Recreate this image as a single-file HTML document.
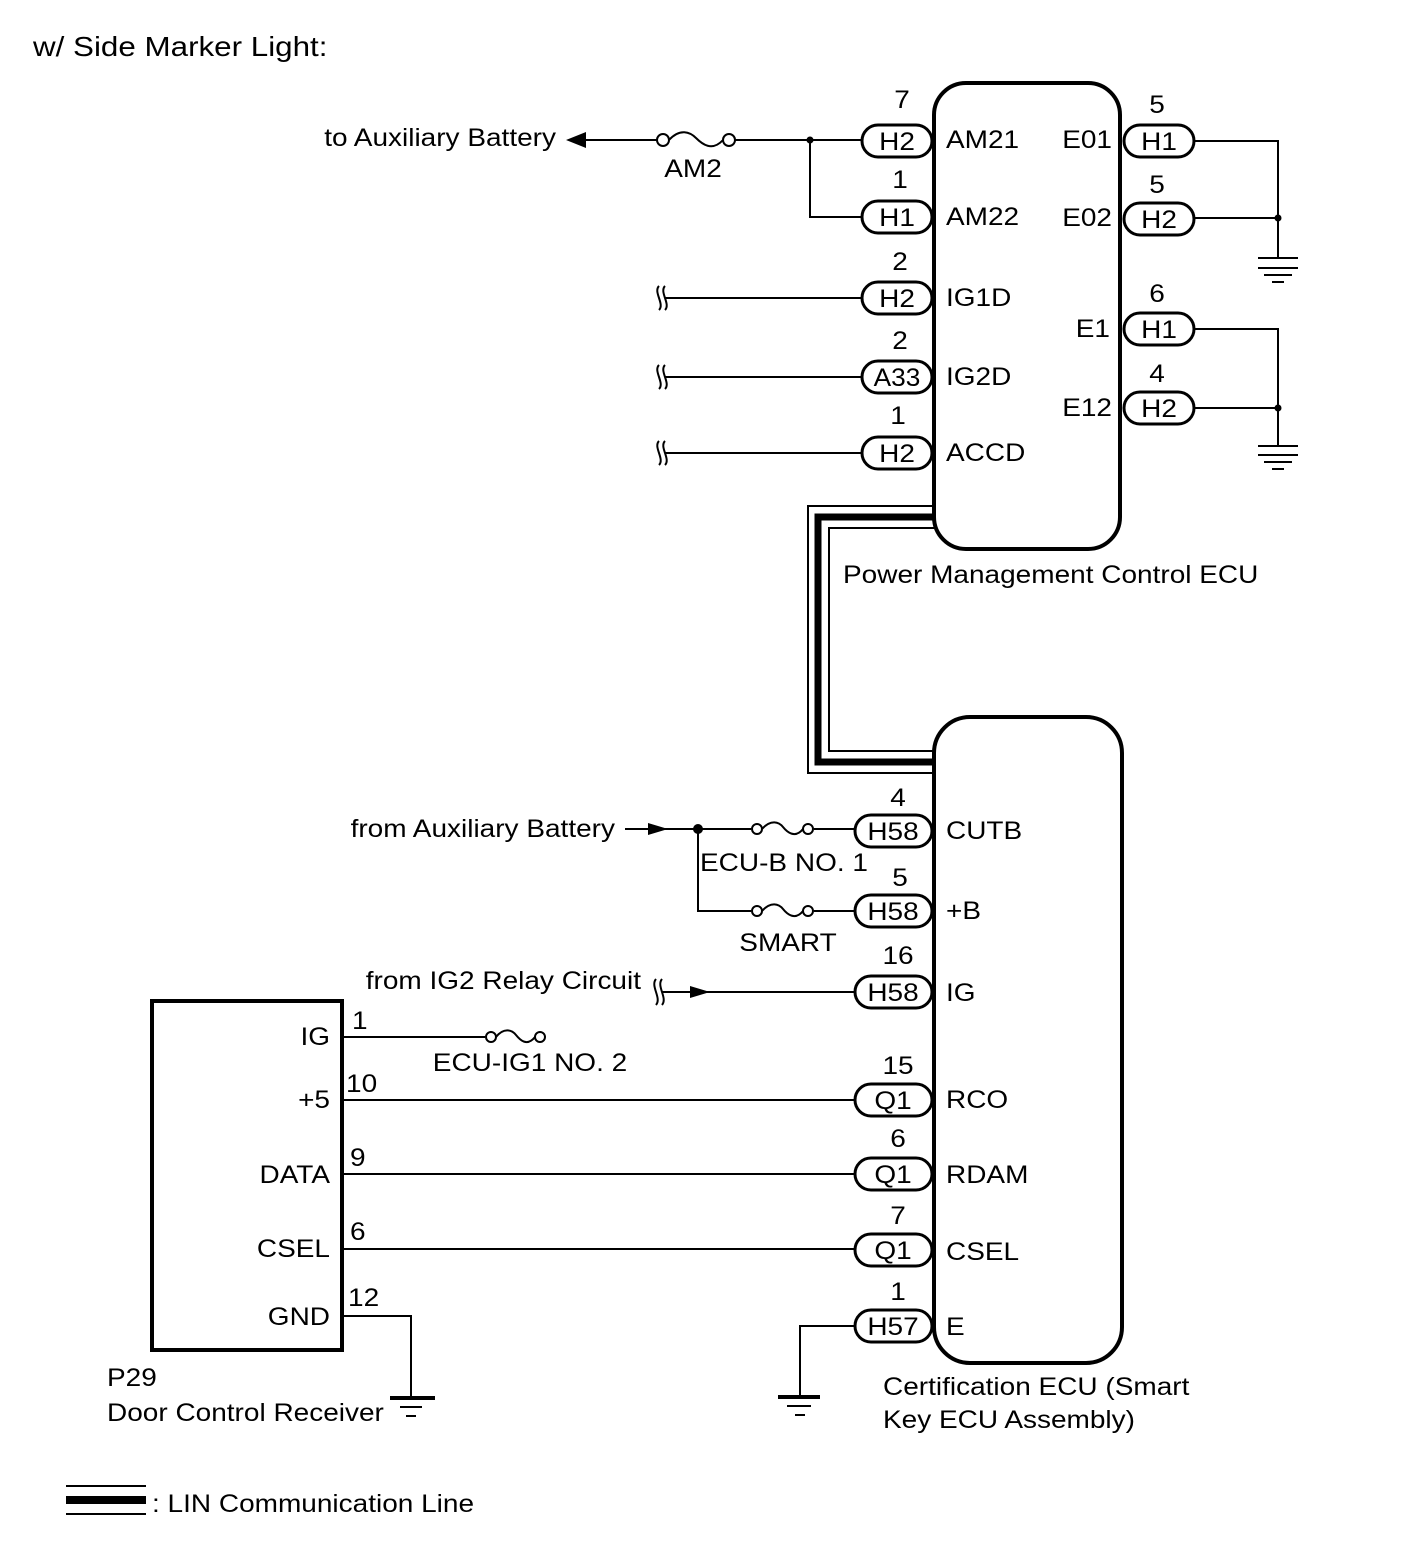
<!DOCTYPE html>
<html><head><meta charset="utf-8"><style>
html,body{margin:0;padding:0;background:#fff;}
svg{display:block;}
text{font-family:"Liberation Sans",Arial,sans-serif;font-size:25px;fill:#000;}
</style></head><body>
<svg width="1424" height="1562" viewBox="0 0 1424 1562" xmlns="http://www.w3.org/2000/svg">
<g fill="none" stroke="#000">
<rect x="934" y="83" width="186" height="466" rx="32" stroke-width="4"/>
<rect x="934" y="717" width="188" height="646" rx="36" stroke-width="4"/>
<rect x="152" y="1001" width="190" height="349" stroke-width="4"/>

<polyline points="934,506 808,506 808,773 934,773" stroke-width="2"/>
<polyline points="934,517 818,517 818,762 934,762" stroke-width="7"/>
<polyline points="934,528 829,528 829,751 934,751" stroke-width="2"/>

<g stroke-width="2">
<line x1="585" y1="140" x2="657" y2="140"/>
<line x1="735" y1="140" x2="862" y2="140"/>
<polyline points="810,140 810,217 862,217"/>
<circle cx="663" cy="140" r="6"/><circle cx="729" cy="140" r="6"/>
<path d="M669,140 C680,128 690,132 696,138 S712,152 723,140"/>
<line x1="665" y1="298" x2="862" y2="298"/>
<line x1="665" y1="377" x2="862" y2="377"/>
<line x1="665" y1="453" x2="862" y2="453"/>
<path d="M659,286 C653,292 665,304 659,310 M665,286 C659,292 671,304 665,310"/>
<path d="M659,365 C653,371 665,383 659,389 M665,365 C659,371 671,383 665,389"/>
<path d="M659,441 C653,447 665,459 659,465 M665,441 C659,447 671,459 665,465"/>
<polyline points="1194,141 1278,141 1278,258"/>
<line x1="1194" y1="218" x2="1278" y2="218"/>
<polyline points="1194,329 1278,329 1278,446"/>
<line x1="1194" y1="408" x2="1278" y2="408"/>
<line x1="1258" y1="268" x2="1298" y2="268"/>
<line x1="1264" y1="275" x2="1292" y2="275"/>
<line x1="1272" y1="282" x2="1284" y2="282"/>
<line x1="1258" y1="455" x2="1298" y2="455"/>
<line x1="1264" y1="462" x2="1292" y2="462"/>
<line x1="1272" y1="469" x2="1284" y2="469"/>
<line x1="1258" y1="258" x2="1298" y2="258"/>
<line x1="1258" y1="446" x2="1298" y2="446"/>

<line x1="625" y1="829" x2="751" y2="829"/>
<line x1="814" y1="829" x2="855" y2="829"/>
<circle cx="757" cy="829" r="5"/><circle cx="808" cy="829" r="5"/>
<path d="M762,829 C771,819 779,822 783,827 S795,839 803,829"/>
<polyline points="698,829 698,911 751,911"/>
<line x1="814" y1="911" x2="855" y2="911"/>
<circle cx="757" cy="911" r="5"/><circle cx="808" cy="911" r="5"/>
<path d="M762,911 C771,901 779,904 783,909 S795,921 803,911"/>
<line x1="662" y1="992" x2="855" y2="992"/>
<path d="M656,979 C650,986 662,998 656,1005 M662,979 C656,986 668,998 662,1005"/>
<line x1="342" y1="1037" x2="485" y2="1037"/>
<circle cx="491" cy="1037" r="5"/><circle cx="540" cy="1037" r="5"/>
<path d="M496,1037 C504,1027 512,1030 516,1035 S527,1047 535,1037"/>
<line x1="342" y1="1100" x2="855" y2="1100"/>
<line x1="342" y1="1174" x2="855" y2="1174"/>
<line x1="342" y1="1249" x2="855" y2="1249"/>
<polyline points="342,1316 411,1316 411,1398"/>
<polyline points="855,1326 800,1326 800,1397"/>
<line x1="787" y1="1406" x2="811" y2="1406"/>
<line x1="795" y1="1415" x2="805" y2="1415"/>
<line x1="400" y1="1407" x2="422" y2="1407"/>
<line x1="406" y1="1416" x2="416" y2="1416"/>
<line x1="66" y1="1486" x2="146" y2="1486"/>
<line x1="66" y1="1514" x2="146" y2="1514"/>
</g>
<line x1="778" y1="1397" x2="820" y2="1397" stroke-width="4"/>
<line x1="390" y1="1398" x2="435" y2="1398" stroke-width="4"/>
<line x1="66" y1="1500" x2="146" y2="1500" stroke-width="8"/>

<g stroke-width="3" fill="#fff">
<rect x="862" y="125" width="70" height="32" rx="16"/>
<rect x="862" y="201" width="70" height="32" rx="16"/>
<rect x="862" y="282" width="70" height="32" rx="16"/>
<rect x="862" y="361" width="70" height="32" rx="16"/>
<rect x="862" y="437" width="70" height="32" rx="16"/>
<rect x="1124" y="125" width="70" height="32" rx="16"/>
<rect x="1124" y="203" width="70" height="32" rx="16"/>
<rect x="1124" y="313" width="70" height="32" rx="16"/>
<rect x="1124" y="392" width="70" height="32" rx="16"/>
<rect x="855" y="815" width="77" height="32" rx="16"/>
<rect x="855" y="895" width="77" height="32" rx="16"/>
<rect x="855" y="976" width="77" height="32" rx="16"/>
<rect x="855" y="1084" width="77" height="32" rx="16"/>
<rect x="855" y="1158" width="77" height="32" rx="16"/>
<rect x="855" y="1234" width="77" height="32" rx="16"/>
<rect x="855" y="1310" width="77" height="32" rx="16"/>
</g>
</g>
<g fill="#000">
<circle cx="810" cy="140" r="3.5"/>
<circle cx="1278" cy="218" r="3.5"/>
<circle cx="1278" cy="408" r="3.5"/>
<circle cx="698" cy="829" r="5"/>
<polygon points="566,140 586,132 586,148"/>
<polygon points="668,829 648,823 648,835"/>
<polygon points="710,992 690,986 690,998"/>
</g>

<text transform="translate(33,56) scale(1.12,1)" style="font-size:28px">w/ Side Marker Light:</text>
<g text-anchor="end">
<text transform="translate(556,146) scale(1.12,1)">to Auxiliary Battery</text>
<text transform="translate(615,837) scale(1.12,1)">from Auxiliary Battery</text>
<text transform="translate(641,989) scale(1.12,1)">from IG2 Relay Circuit</text>
<text transform="translate(330,1045) scale(1.12,1)">IG</text>
<text transform="translate(330,1108) scale(1.12,1)">+5</text>
<text transform="translate(330,1183) scale(1.12,1)">DATA</text>
<text transform="translate(330,1257) scale(1.12,1)">CSEL</text>
<text transform="translate(330,1325) scale(1.12,1)">GND</text>
<text transform="translate(1112,148) scale(1.12,1)">E01</text>
<text transform="translate(1112,226) scale(1.12,1)">E02</text>
<text transform="translate(1110,337) scale(1.12,1)">E1</text>
<text transform="translate(1112,416) scale(1.12,1)">E12</text>
</g>
<g text-anchor="middle">
<text transform="translate(693,177) scale(1.12,1)">AM2</text>
<text transform="translate(788,951) scale(1.12,1)">SMART</text>
<text transform="translate(530,1071) scale(1.12,1)">ECU-IG1 NO. 2</text>
<text transform="translate(897,150) scale(1.12,1)">H2</text>
<text transform="translate(897,226) scale(1.12,1)">H1</text>
<text transform="translate(897,307) scale(1.12,1)">H2</text>
<text transform="translate(897,386) scale(1.05,1)">A33</text>
<text transform="translate(897,462) scale(1.12,1)">H2</text>
<text transform="translate(1159,150) scale(1.12,1)">H1</text>
<text transform="translate(1159,228) scale(1.12,1)">H2</text>
<text transform="translate(1159,338) scale(1.12,1)">H1</text>
<text transform="translate(1159,417) scale(1.12,1)">H2</text>
<text transform="translate(893,840) scale(1.12,1)">H58</text>
<text transform="translate(893,920) scale(1.12,1)">H58</text>
<text transform="translate(893,1001) scale(1.12,1)">H58</text>
<text transform="translate(893,1109) scale(1.12,1)">Q1</text>
<text transform="translate(893,1183) scale(1.12,1)">Q1</text>
<text transform="translate(893,1259) scale(1.12,1)">Q1</text>
<text transform="translate(893,1335) scale(1.12,1)">H57</text>
<text transform="translate(902,108) scale(1.12,1)">7</text>
<text transform="translate(900,188) scale(1.12,1)">1</text>
<text transform="translate(900,270) scale(1.12,1)">2</text>
<text transform="translate(900,349) scale(1.12,1)">2</text>
<text transform="translate(898,424) scale(1.12,1)">1</text>
<text transform="translate(1157,113) scale(1.12,1)">5</text>
<text transform="translate(1157,193) scale(1.12,1)">5</text>
<text transform="translate(1157,302) scale(1.12,1)">6</text>
<text transform="translate(1157,382) scale(1.12,1)">4</text>
<text transform="translate(898,806) scale(1.12,1)">4</text>
<text transform="translate(900,886) scale(1.12,1)">5</text>
<text transform="translate(898,964) scale(1.12,1)">16</text>
<text transform="translate(898,1074) scale(1.12,1)">15</text>
<text transform="translate(898,1147) scale(1.12,1)">6</text>
<text transform="translate(898,1224) scale(1.12,1)">7</text>
<text transform="translate(898,1300) scale(1.12,1)">1</text>
</g>
<text transform="translate(946,148) scale(1.12,1)">AM21</text>
<text transform="translate(946,225) scale(1.12,1)">AM22</text>
<text transform="translate(946,306) scale(1.12,1)">IG1D</text>
<text transform="translate(946,385) scale(1.12,1)">IG2D</text>
<text transform="translate(946,461) scale(1.12,1)">ACCD</text>
<text transform="translate(946,839) scale(1.12,1)">CUTB</text>
<text transform="translate(946,919) scale(1.12,1)">+B</text>
<text transform="translate(946,1001) scale(1.12,1)">IG</text>
<text transform="translate(946,1108) scale(1.12,1)">RCO</text>
<text transform="translate(946,1183) scale(1.12,1)">RDAM</text>
<text transform="translate(946,1260) scale(1.12,1)">CSEL</text>
<text transform="translate(946,1335) scale(1.12,1)">E</text>
<text transform="translate(700,871) scale(1.12,1)">ECU-B NO. 1</text>
<text transform="translate(352,1029) scale(1.12,1)">1</text>
<text transform="translate(346,1092) scale(1.12,1)">10</text>
<text transform="translate(350,1166) scale(1.12,1)">9</text>
<text transform="translate(350,1240) scale(1.12,1)">6</text>
<text transform="translate(348,1306) scale(1.12,1)">12</text>
<text transform="translate(843,583) scale(1.12,1)">Power Management Control ECU</text>
<text transform="translate(883,1395) scale(1.12,1)">Certification ECU (Smart</text>
<text transform="translate(883,1428) scale(1.12,1)">Key ECU Assembly)</text>
<text transform="translate(107,1386) scale(1.12,1)">P29</text>
<text transform="translate(107,1421) scale(1.12,1)">Door Control Receiver</text>
<text transform="translate(152,1512) scale(1.12,1)">: LIN Communication Line</text>
</svg>
</body></html>
